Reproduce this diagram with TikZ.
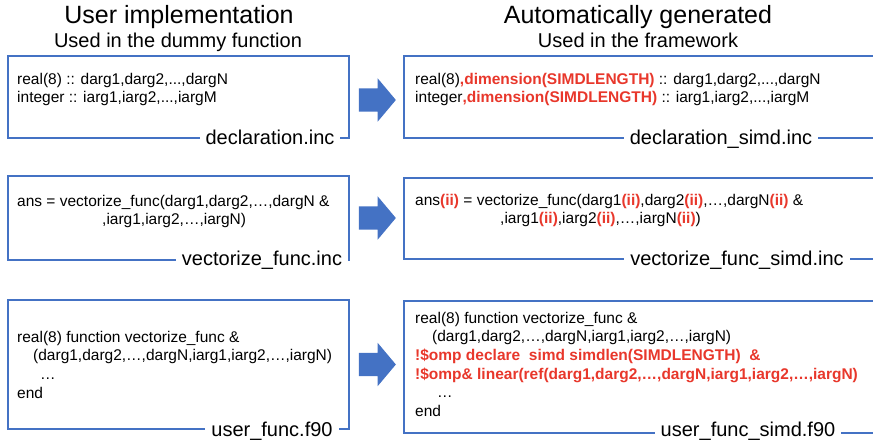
\documentclass[tikz,border=0pt]{standalone}
\usepackage{fontspec}
\setmainfont{Liberation Sans}
\usepackage{tikz}
\usetikzlibrary{positioning, shapes.arrows}
\definecolor{boxblue}{RGB}{68,114,196}
\definecolor{simdred}{RGB}{232,55,43}
\newcommand{\simd}[1]{\textbf{\color{simdred}#1}}

\begin{document}
\begin{tikzpicture}[
					x=1pt, y=-1pt,
					box/.style={draw=boxblue, line width=1.3pt, rectangle, inner sep=0pt},
					code/.style={anchor=north west, align=left, inner sep=0pt, font=\fontsize{15.5}{18.7}\selectfont},
					file/.style={anchor=base, fill=white, inner xsep=6pt, inner ysep=1pt, font=\fontsize{20}{24}\selectfont},
					title/.style={anchor=base, font=\fontsize{25}{30}\selectfont},
					subtitle/.style={anchor=base, font=\fontsize{20}{24}\selectfont},
					go/.style={single arrow, fill=boxblue, inner xsep=0pt, inner ysep=11.5pt, minimum height=37pt, single arrow head extend=10pt, single arrow tip angle=100},
				]
				\useasboundingbox (0,0) rectangle (873,443);
				\node[title] (tu) at (179,24) {User implementation};
				\node[subtitle] (su) at (178,48) {Used in the dummy function};
				\node[title] (tg) at (638,24) {Automatically generated};
				\node[subtitle] (sg) at (638,48) {Used in the framework};

				\node[box, minimum width=341pt, minimum height=82pt] (u1) at (178.5,97) {};
				\node[box, minimum width=480pt, minimum height=82pt] (g1) at (644,97) {};
				\node[box, minimum width=341pt, minimum height=84pt] (u2) at (178.5,218) {};
				\node[box, minimum width=480pt, minimum height=81pt] (g2) at (644,218.5) {};
				\node[box, minimum width=341pt, minimum height=129pt] (u3) at (178.5,364.5) {};
				\node[box, minimum width=480pt, minimum height=132pt] (g3) at (644,367) {};

				\node[go, right=9pt of u1, yshift=-3pt] (a1) {};
				\node[go, right=9pt of u2] (a2) {};
				\node[go, right=9pt of u3] (a3) {};

				\node[code] (c1) at (17,72.7) {real(8) :: darg1,darg2,...,dargN\\integer :: iarg1,iarg2,...,iargM};
				\node[code] (d1) at (415,72.7) {real(8)\simd{,dimension(SIMDLENGTH)} :: darg1,darg2,...,dargN\\integer\simd{,dimension(SIMDLENGTH)} :: iarg1,iarg2,...,iargM};
				\node[code] (c2) at (17,194.7) {ans = vectorize\_func(darg1,darg2,…,dargN \&\\\hspace*{85pt},iarg1,iarg2,…,iargN)};
				\node[code] (d2) at (415,193.7) {ans\simd{(ii)} = vectorize\_func(darg1\simd{(ii)},darg2\simd{(ii)},…,dargN\simd{(ii)} \&\\\hspace*{85pt},iarg1\simd{(ii)},iarg2\simd{(ii)},…,iargN\simd{(ii)})};
				\node[code] (c3) at (17,330.7) {real(8) function vectorize\_func \&\\\hspace*{16pt}(darg1,darg2,…,dargN,iarg1,iarg2,…,iargN)\\\hspace*{23pt}…\\end};
				\node[code] (d3) at (415,311.7) {real(8) function vectorize\_func \&\\\hspace*{17pt}(darg1,darg2,…,dargN,iarg1,iarg2,…,iargN)\\\simd{!\$omp declare\ \ simd simdlen(SIMDLENGTH)\ \ \&}\\\simd{!\$omp\& linear(ref(darg1,darg2,…,dargN,iarg1,iarg2,…,iargN)}\\\hspace*{22pt}…\\end};

				\node[file] (f1) at (270,145) {declaration.inc};
				\node[file] (h1) at (721,145) {declaration\_simd.inc};
				\node[file] (f2) at (262,266) {vectorize\_func.inc};
				\node[file] (h2) at (737,266) {vectorize\_func\_simd.inc};
				\node[file] (f3) at (272,436) {user\_func.f90};
				\node[file] (h3) at (748,436) {user\_func\_simd.f90};
			\end{tikzpicture}
\end{document}
